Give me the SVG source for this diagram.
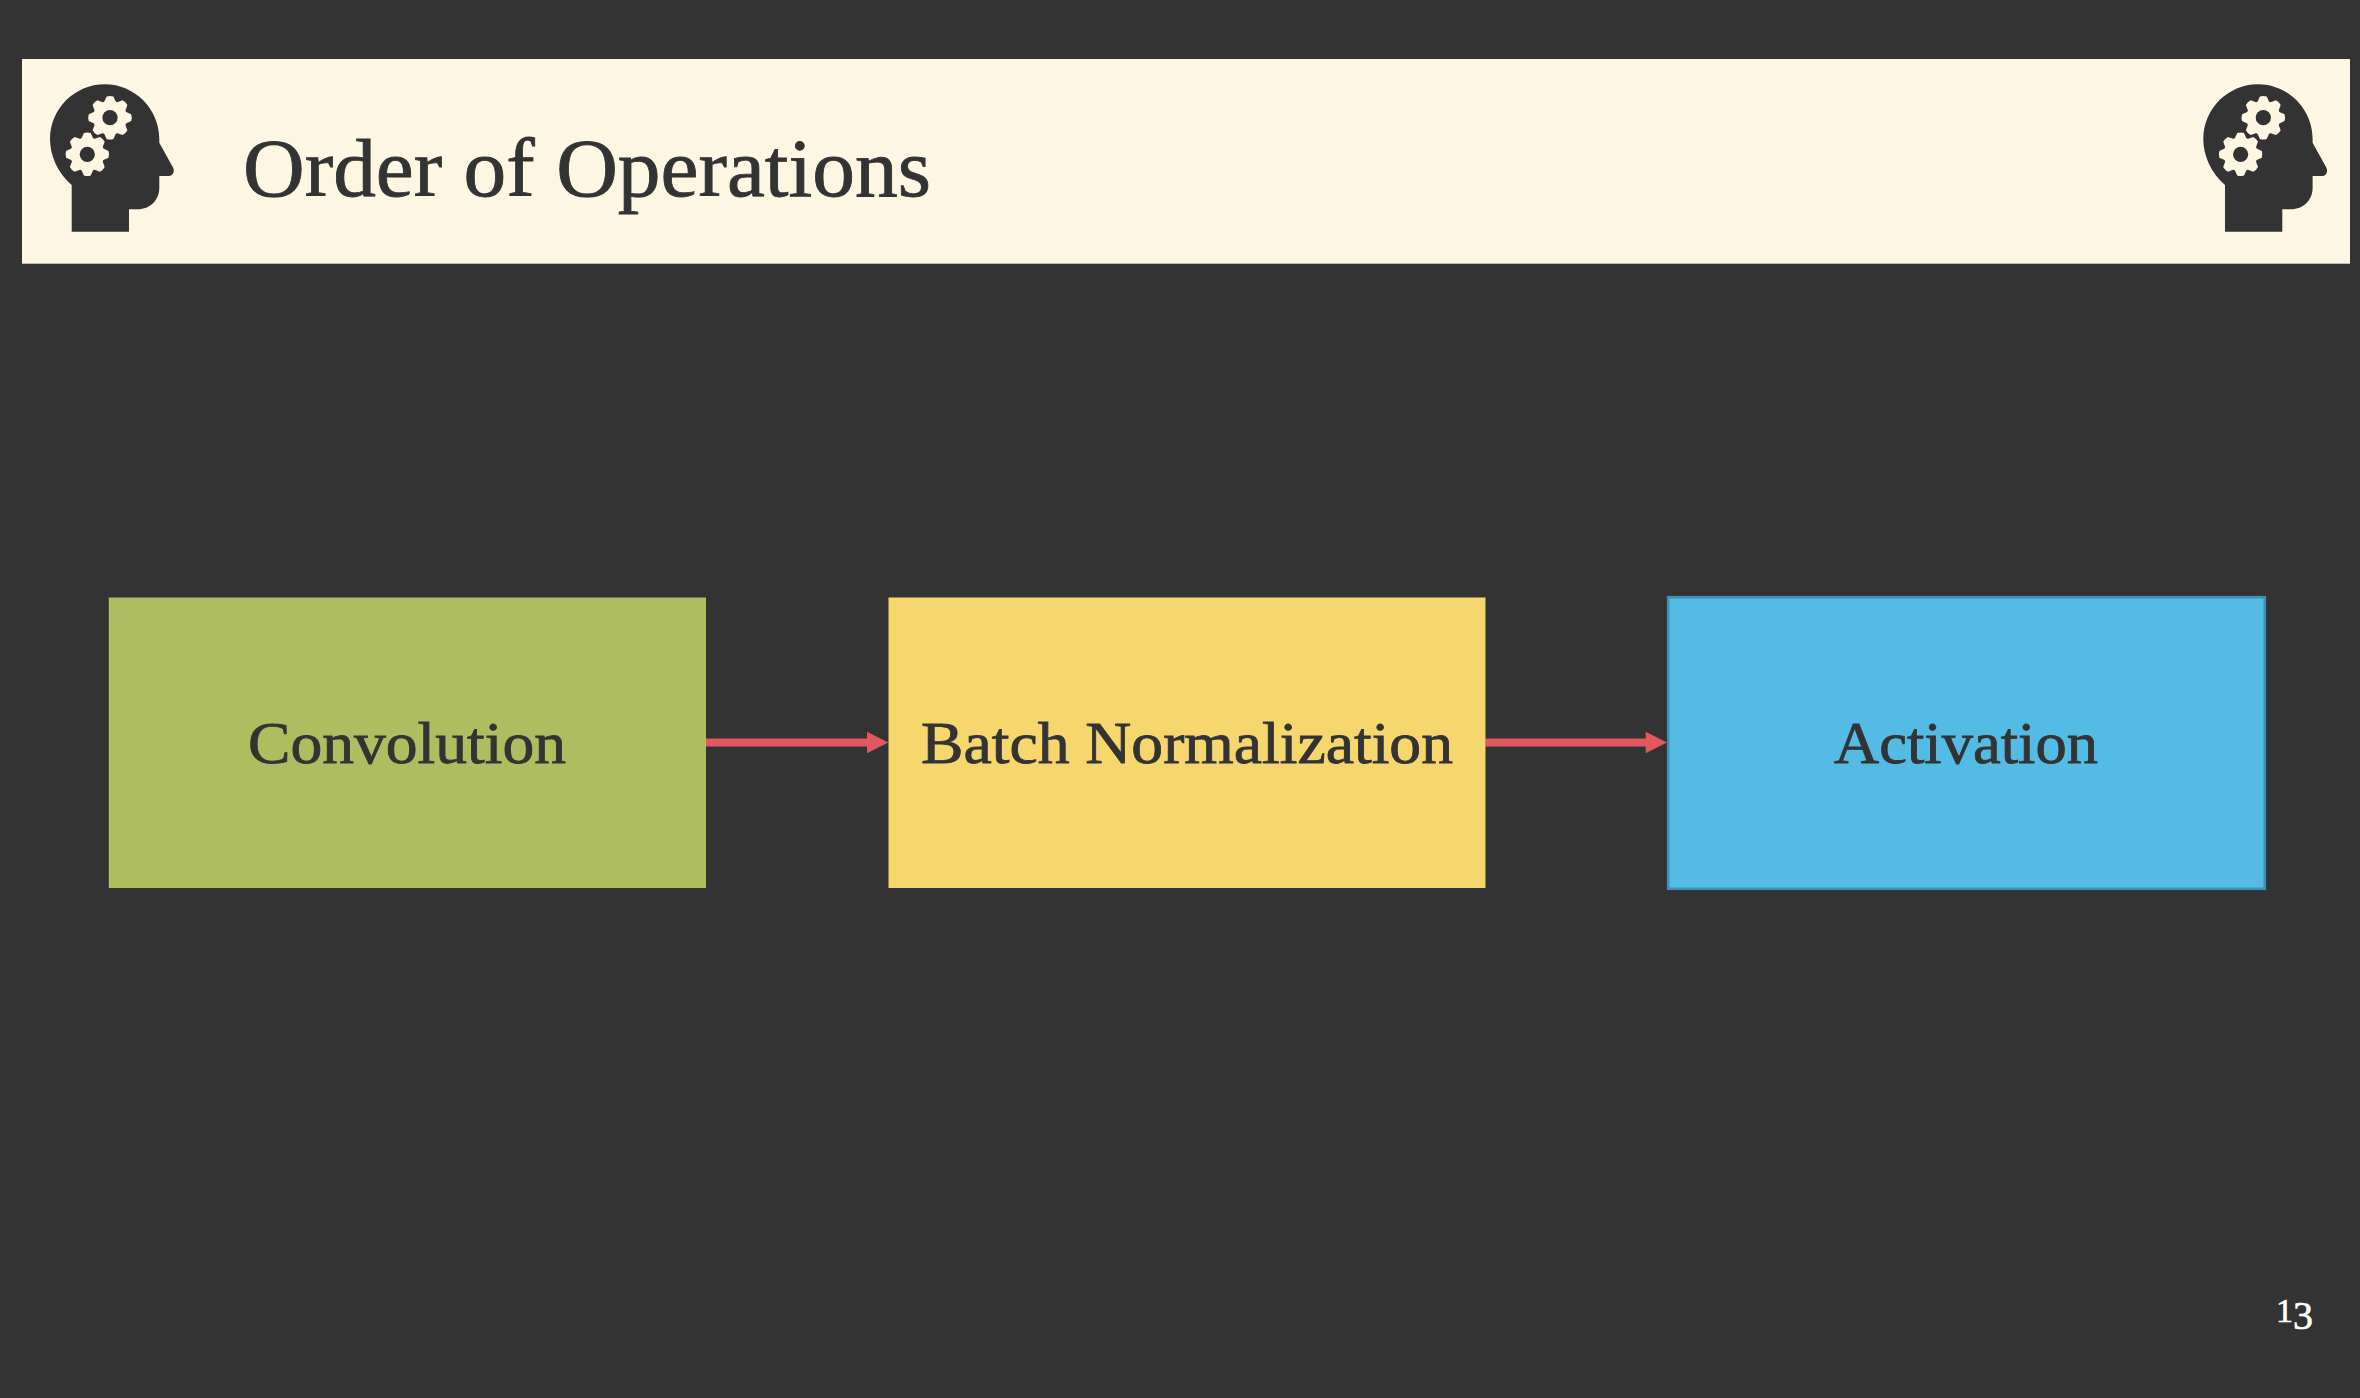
<svg xmlns="http://www.w3.org/2000/svg" xmlns:xlink="http://www.w3.org/1999/xlink" width="2360" height="1398" viewBox="0 0 2360 1398">
<style>
text{font-family:"Liberation Serif","DejaVu Serif",serif;fill:#333333;stroke:#333333;stroke-width:.8}
.label{font-size:59px}
.title{font-size:82px}
.page{fill:#ffffff;stroke:#ffffff;stroke-width:.6}
.conn{stroke:#e0595e;stroke-width:8;fill:none}
.head{fill:#e0595e}
</style>
<defs>
<path id="tooth" d="M-6,-15.5L-3.4,-21.2Q0,-22.4 3.4,-21.2L6,-15.5Z" fill="#fdf6e3"/>
<g id="gear">
<circle r="17" fill="#fdf6e3"/>
<use xlink:href="#tooth" href="#tooth"/>
<use xlink:href="#tooth" href="#tooth" transform="rotate(45)"/>
<use xlink:href="#tooth" href="#tooth" transform="rotate(90)"/>
<use xlink:href="#tooth" href="#tooth" transform="rotate(135)"/>
<use xlink:href="#tooth" href="#tooth" transform="rotate(180)"/>
<use xlink:href="#tooth" href="#tooth" transform="rotate(225)"/>
<use xlink:href="#tooth" href="#tooth" transform="rotate(270)"/>
<use xlink:href="#tooth" href="#tooth" transform="rotate(315)"/>
<circle r="7.6" fill="#333333"/>
</g>
<g id="head">
<path d="M71.7,231.7H129V209.3H137.7C150,209.3 159.3,200 159.3,188V176H168.5C173,176 175,171.5 173,167.5L159.3,142.7V139C159.3,109 134.8,84.3 104.7,84.3C74.6,84.3 50,109 50,139C50,156 58,173 71.7,185Z" fill="#333333"/>
<use xlink:href="#gear" href="#gear" x="110" y="117.7"/>
<use xlink:href="#gear" href="#gear" x="87.3" y="154.3"/>
</g>
</defs>
<rect width="2360" height="1398" fill="#333333"/>
<g id="header">
<rect x="22" y="59" width="2328" height="204.7" fill="#fdf6e3"/>
<use id="icon-left" xlink:href="#head" href="#head"/>
<use id="icon-right" xlink:href="#head" href="#head" x="2153.3"/>
<text class="title" x="243" y="196" textLength="688" lengthAdjust="spacingAndGlyphs">Order of Operations</text>
</g>
<g id="connectors">
<path class="conn" d="M706,742.5H870"/>
<path class="head" d="M867,731.7L888.3,742.5L867,753.3Z"/>
<path class="conn" d="M1485.5,742.5H1649"/>
<path class="head" d="M1645.7,731.7L1667,742.5L1645.7,753.3Z"/>
</g>
<g id="node-convolution">
<rect x="108.8" y="597.5" width="597.2" height="290.5" fill="#aebd5f"/>
<text class="label" x="248" y="763" textLength="318" lengthAdjust="spacingAndGlyphs">Convolution</text>
</g>
<g id="node-batch-normalization">
<rect x="888.5" y="597.5" width="597" height="290.5" fill="#f5d76e"/>
<text class="label" x="921" y="763" textLength="532" lengthAdjust="spacingAndGlyphs">Batch Normalization</text>
</g>
<g id="node-activation">
<rect x="1668.2" y="597.2" width="596.6" height="291.6" fill="#54bbe4" stroke="#3f90b5" stroke-width="2.6"/>
<text class="label" x="1834" y="763" textLength="264" lengthAdjust="spacingAndGlyphs">Activation</text>
</g>
<text id="page-number" class="page" x="2276" y="1322"><tspan font-size="34">1</tspan><tspan font-size="40" dy="7">3</tspan></text>
</svg>
